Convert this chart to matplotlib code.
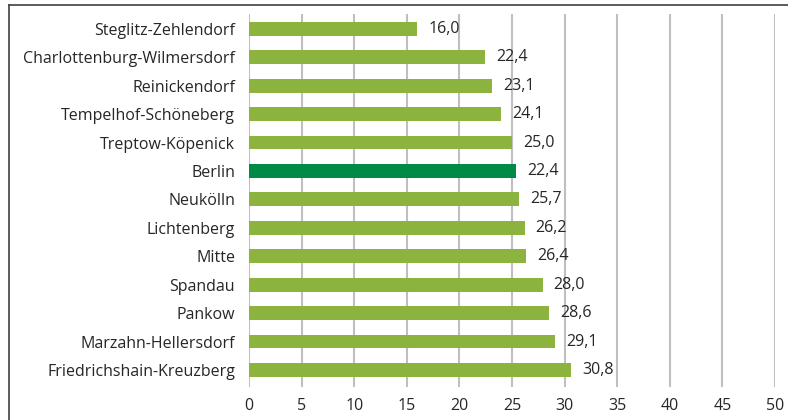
import matplotlib.pyplot as plt
from matplotlib.lines import Line2D
import numpy as np

# Data
districts = ['Steglitz-Zehlendorf', 'Charlottenburg-Wilmersdorf', 'Reinickendorf',
             'Tempelhof-Schöneberg', 'Treptow-Köpenick', 'Berlin', 'Neukölln',
             'Lichtenberg', 'Mitte', 'Spandau', 'Pankow', 'Marzahn-Hellersdorf',
             'Friedrichshain-Kreuzberg']
# bar lengths as drawn in the source
values = [16.0, 22.4, 23.1, 24.0, 25.0, 25.4, 25.7, 26.2, 26.3, 27.9, 28.5, 29.1, 30.6]
# value labels as printed in the source
value_labels = ['16,0', '22,4', '23,1', '24,1', '25,0', '22,4', '25,7',
                '26,2', '26,4', '28,0', '28,6', '29,1', '30,8']
x_ticks = [0, 5, 10, 15, 20, 25, 30, 35, 40, 45, 50]

plt.rcParams['font.family'] = ['Open Sans', 'DejaVu Sans']

fig = plt.figure(figsize=(7.88, 4.2), dpi=100)
ax = fig.add_axes([0.316, 0.0786, 0.6675, 0.888])

colors = ['#008A45' if d == 'Berlin' else '#8DB33F' for d in districts]
y = np.arange(len(districts))
ax.barh(y, values, height=0.49, color=colors, zorder=3)

for yi, v, lab in zip(y, values, value_labels):
    ax.annotate(lab, (v, yi), xytext=(8, 0), textcoords='offset points',
                va='center', ha='left', fontsize=11.5, color='#262626', zorder=4)

ax.set_xlim(0, 50)
ax.set_ylim(12.6, -0.52)
ax.set_xticks(x_ticks)
ax.set_yticks(y)
ax.set_yticklabels(districts)
ax.tick_params(axis='both', length=0, labelsize=11.5, colors='#262626')
ax.tick_params(axis='y', pad=10)
ax.tick_params(axis='x', pad=8)
ax.grid(axis='x', color='#BFBFBF', linewidth=1.5, zorder=0)
for s in ax.spines.values():
    s.set_visible(False)

# frame lines around the chart (top and left)
fig.add_artist(Line2D([9 / 788, 1], [1 - 5 / 420, 1 - 5 / 420], color='#404040', linewidth=1.2))
fig.add_artist(Line2D([9 / 788, 9 / 788], [0, 1 - 5 / 420], color='#404040', linewidth=1.2))

plt.savefig('out.png', dpi=100)
